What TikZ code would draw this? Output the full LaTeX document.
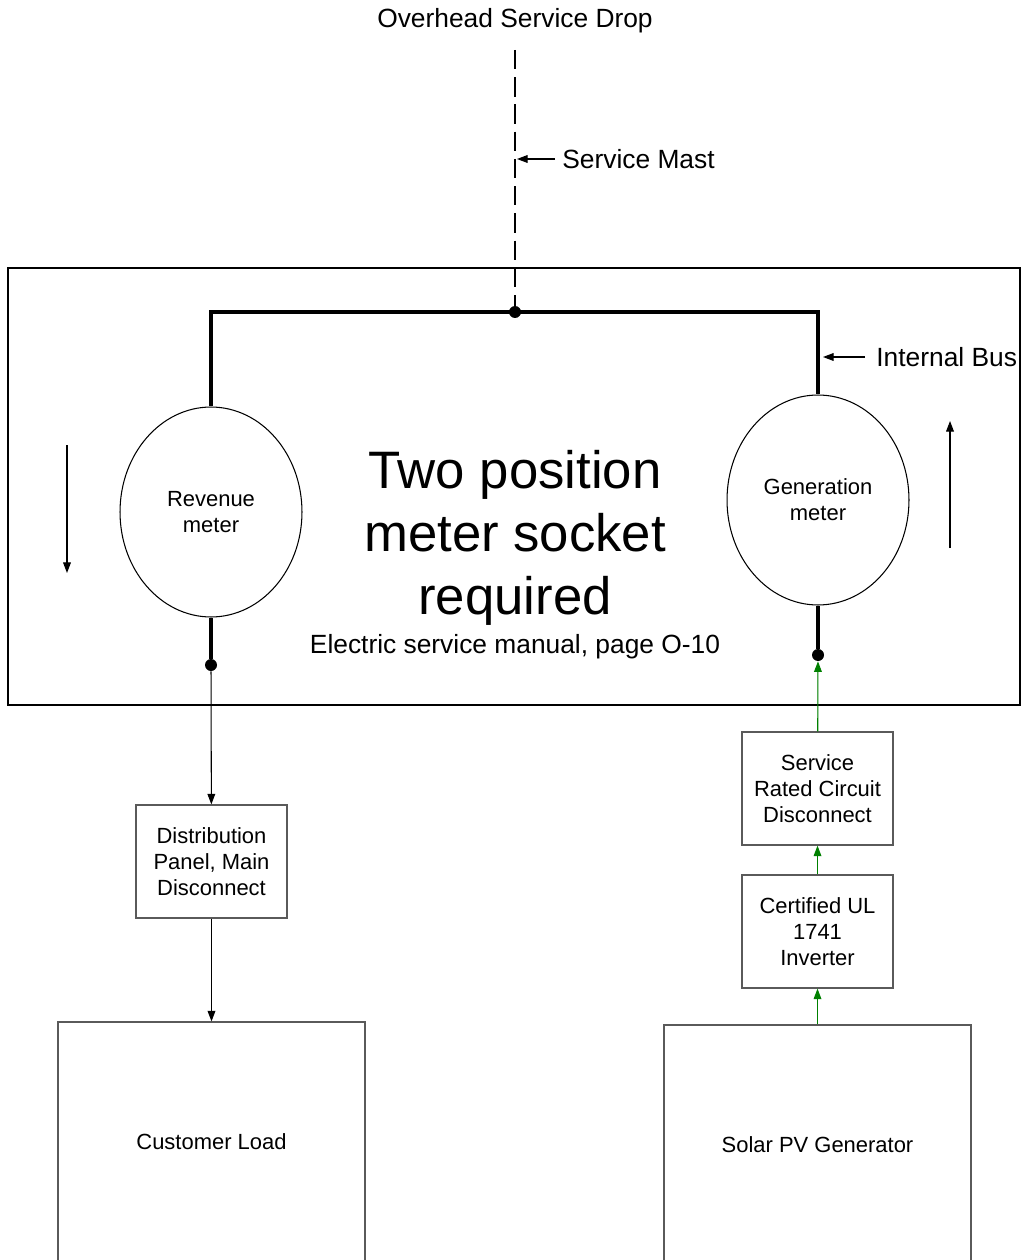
\documentclass[tikz,border=0pt]{standalone}
\usepackage{fontspec}
\setmainfont{Liberation Sans}
\usetikzlibrary{shapes.geometric,arrows.meta}
\definecolor{boxgray}{RGB}{90,90,90}
\definecolor{pvgreen}{RGB}{0,128,0}
\begin{document}
\begin{tikzpicture}[x=0.02cm,y=-0.02cm,
    meter/.style={ellipse,draw,line width=0.6pt,minimum width=3.64cm,minimum height=4.2cm,inner sep=0pt,align=center,font=\fontsize{12.5}{14.7}\selectfont},
    unit/.style={rectangle,draw=boxgray,line width=0.7pt,minimum width=3.02cm,minimum height=2.26cm,inner sep=0pt,align=center,font=\fontsize{12.5}{15}\selectfont},
    bigunit/.style={rectangle,draw=boxgray,line width=0.7pt,minimum width=6.14cm,minimum height=4.8cm,font=\fontsize{12.5}{15}\selectfont},
    dot/.style={circle,fill,inner sep=0pt,minimum size=0.24cm},
    bus/.style={line width=2.4pt},
    flow/.style={line width=0.6pt,-{Triangle[length=6pt,width=4.4pt]}},
    gflow/.style={flow,draw=pvgreen,fill=pvgreen},
    tag/.style={font=\fontsize{15}{18}\selectfont,inner sep=0pt}]
  \useasboundingbox (0,0) rectangle (1021,1260);

  % meter socket
  \node[draw,line width=1.2pt,minimum width=20.24cm,minimum height=8.74cm] (sk) at (514,486.5) {};
  \node[font=\fontsize{30}{36}\selectfont,align=center,inner sep=0pt] (title) at (515,538)
    {Two position\\meter socket\\required};
  \node[tag] (ref) at (515,647) {Electric service manual, page O-10};

  % meters
  \node[meter] (rm) at (211,512) {Revenue\\meter};
  \node[meter] (gm) at (818,500) {Generation\\meter};

  % service drop and bus
  \node[tag] (drop) at (515,21) {Overhead Service Drop};
  \coordinate (top) at (515,50);
  \node[dot] (d1) at (515,312) {};
  \node[dot] (d2) at (211,665) {};
  \node[dot] (d3) at (818,655) {};
  \draw[line width=1.2pt,dash pattern=on 11pt off 4.5pt] (top) -- (d1);
  \draw[bus] (rm.north) -- (rm.north |- d1) -- (gm.north |- d1) -- (gm.north);
  \draw[bus] (rm.south) -- (d2);
  \draw[bus] (gm.south) -- (d3);

  % callouts
  \node[tag,anchor=west] (mast) at (562,159) {Service Mast};
  \coordinate (mtip) at (517,159);
  \draw[flow] (mast.west) ++(-7,0) -- (mtip);
  \node[tag,anchor=west] (ib) at (876,357) {Internal Bus};
  \coordinate (btip) at (823,357);
  \draw[flow] (ib.west) ++(-11,0) -- (btip);

  % direction of flow
  \coordinate (la) at (67,445);
  \coordinate (lb) at (67,573);
  \draw[flow] (la) -- (lb);
  \coordinate (ra) at (950,548);
  \coordinate (rb) at (950,421);
  \draw[flow] (ra) -- (rb);

  % load side
  \node[unit] (dp) at (211.5,861.5) {Distribution\\Panel, Main\\Disconnect};
  \node[bigunit] (cl) at (211.5,1142) {Customer Load};
  \draw[flow] (d2) -- (dp);
  \draw[flow] (dp) -- (cl);

  % generation side
  \node[unit] (sd) at (817.5,788.5) {Service\\Rated Circuit\\Disconnect};
  \node[unit] (inv) at (817.5,931.5) {Certified UL\\1741\\Inverter};
  \node[bigunit] (pv) at (817.5,1145) {Solar PV Generator};
  \draw[gflow] (pv) -- (inv);
  \draw[gflow] (inv) -- (sd);
  \draw[gflow] (sd) -- (d3);
\end{tikzpicture}
\end{document}
